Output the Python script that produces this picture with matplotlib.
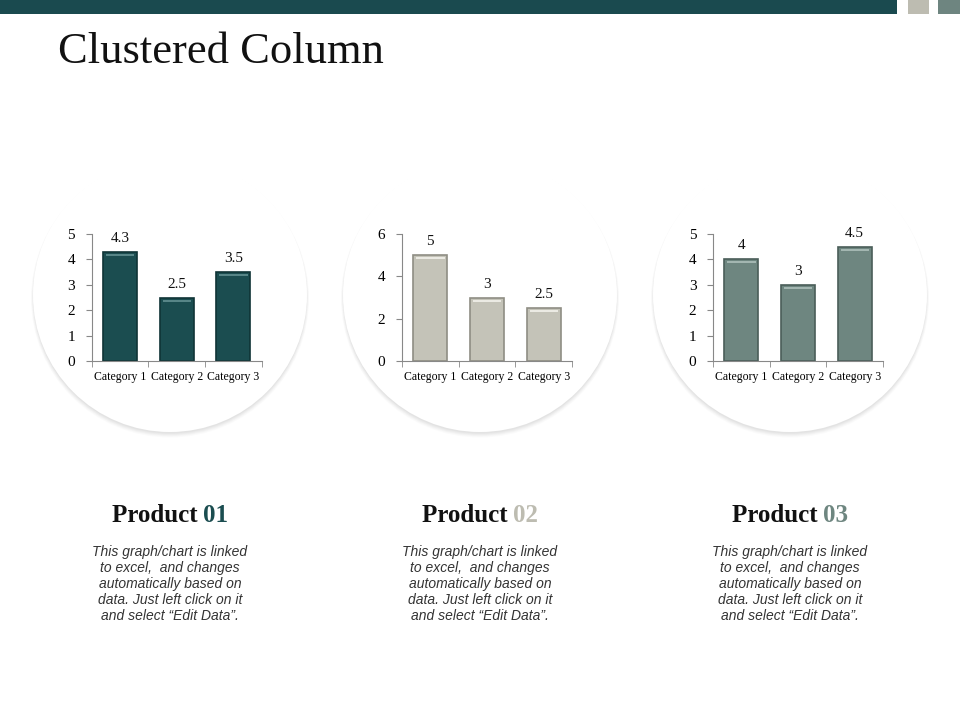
import matplotlib
matplotlib.use("Agg")
import matplotlib.pyplot as plt
from matplotlib.patches import Circle, Rectangle
import numpy as np

categories = ["Category 1", "Category 2", "Category 3"]
product1 = [4.3, 2.5, 3.5]
product2 = [5, 3, 2.5]
product3 = [4, 3, 4.5]
series = [product1, product2, product3]
product_names = ["Product ", "Product ", "Product "]
product_nums = ["01", "02", "03"]
y_max = [5, 6, 5]
y_ticks = [[0, 1, 2, 3, 4, 5], [0, 2, 4, 6], [0, 1, 2, 3, 4, 5]]
title = "Clustered Column"
desc = ("This graph/chart is linked\nto excel,  and changes\nautomatically based on\n"
        "data. Just left click on it\nand select \u201cEdit Data\u201d.")

colors = ["#1B4D50", "#C4C3B8", "#6E8680"]
edge_colors = ["#0F3436", "#8F8E84", "#4A5E59"]
hi_colors = ["#5E8C8E", "#F0EFE8", "#A9BCB7"]
num_colors = ["#1B4D50", "#BDBCB1", "#6E8680"]

W, H = 960, 720
fig = plt.figure(figsize=(9.6, 7.2), dpi=100)
bg = fig.add_axes([0, 0, 1, 1])
bg.set_xlim(0, W)
bg.set_ylim(H, 0)
bg.axis("off")

# top band
bg.add_patch(Rectangle((0, 0), 897, 14, color="#1A4A4F", lw=0))
bg.add_patch(Rectangle((908, 0), 21, 14, color="#BDBCB1", lw=0))
bg.add_patch(Rectangle((938, 0), 22, 14, color="#6E8580", lw=0))

bg.text(58, 52, title, fontsize=32, family="Liberation Serif", va="center", ha="left",
        color="#111111")

centers = [170, 480, 790]
cy, r = 295, 137
for cx in centers:
    # soft shadow, stronger toward the bottom
    for k, a in enumerate([0.03, 0.04, 0.05, 0.06, 0.07]):
        bg.add_patch(Circle((cx, cy + 3.5 - k * 0.4), r + 2 - k * 0.6, color="#8a8a8a",
                            alpha=a, lw=0))
    bg.add_patch(Circle((cx, cy), r, facecolor="white", edgecolor="none", lw=0))

axes_left = [91.7, 402, 713]
ax_w = 170
ax_top, ax_bot = 234, 361

fig.canvas.draw()
ren = fig.canvas.get_renderer()

for i in range(3):
    ax = fig.add_axes([axes_left[i] / W, (H - ax_bot) / H, ax_w / W, (ax_bot - ax_top) / H])
    ax.patch.set_alpha(0)
    x = np.arange(len(categories))
    vals = series[i]
    ax.bar(x, vals, width=0.6, color=colors[i], edgecolor=edge_colors[i], lw=1.2, zorder=2)
    # bevel highlight near the top of each bar
    for xi, v in zip(x, vals):
        ax.plot([xi - 0.25, xi + 0.25], [v - 0.12 * y_max[i] / 5] * 2, color=hi_colors[i],
                lw=1.3, zorder=3, solid_capstyle="butt")
        ax.annotate(f"{v:g}", (xi, v), xytext=(0, 5), textcoords="offset points",
                    ha="center", va="bottom", fontsize=11, family="Liberation Serif",
                    color="#111111")
    ax.set_xlim(-0.5, 2.5)
    ax.set_ylim(0, y_max[i])
    ax.set_yticks(y_ticks[i])
    ax.set_yticklabels([str(t) for t in y_ticks[i]], fontsize=11, family="Liberation Serif")
    ax.set_xticks(x)
    ax.set_xticklabels(categories, fontsize=8.5, family="Liberation Serif")
    ax.set_xticks([-0.5, 0.5, 1.5, 2.5], minor=True)
    ax.tick_params(axis="x", which="major", length=0, pad=7)
    ax.tick_params(axis="x", which="minor", length=4, color="#888888", direction="out")
    ax.tick_params(axis="y", length=4, color="#888888", direction="out", pad=8)
    for s in ["top", "right"]:
        ax.spines[s].set_visible(False)
    for s in ["left", "bottom"]:
        ax.spines[s].set_color("#888888")
        ax.spines[s].set_linewidth(0.8)

    # Product heading with two colours
    cx = centers[i]
    t1 = bg.text(0, 515, product_names[i], fontsize=18, fontweight="bold",
                 family="Liberation Serif", va="center", ha="left", color="#111111")
    t2 = bg.text(0, 515, product_nums[i], fontsize=18, fontweight="bold",
                 family="Liberation Serif", va="center", ha="left", color=num_colors[i])
    w1 = t1.get_window_extent(ren).width
    w2 = t2.get_window_extent(ren).width
    start = cx - (w1 + w2) / 2
    t1.set_x(start)
    t2.set_x(start + w1)

    bg.text(cx, 584, desc, fontsize=10, style="italic", family="Liberation Sans",
            ha="center", va="center", color="#333333", linespacing=1.2)

fig.savefig("out.png", dpi=100)
